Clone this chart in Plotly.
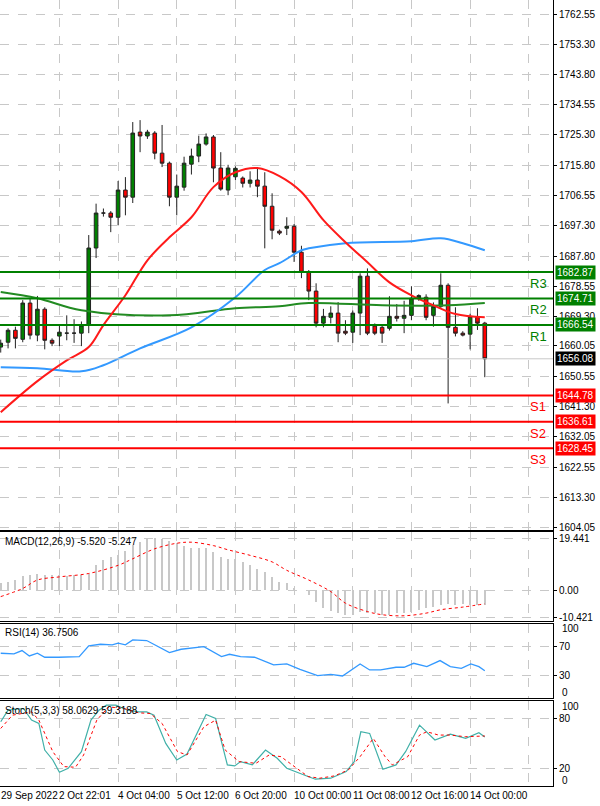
import plotly.graph_objects as go

# candles (index 0..66)
opens = [1659.7, 1661.2, 1664.9, 1662.1, 1673.3, 1663.4, 1671.4, 1661.8, 1663.1, 1664.0,
         1664.0, 1664.0, 1666.5, 1690.3, 1701.1, 1701.1, 1699.8, 1708.2, 1706.0, 1726.1,
         1724.9, 1725.8, 1719.6, 1716.5, 1706.0, 1709.1, 1716.2, 1718.7, 1722.4, 1724.6,
         1715.0, 1708.2, 1712.3, 1711.9, 1710.3, 1711.3, 1709.4, 1703.2, 1695.5, 1696.4,
         1697.0, 1689.0, 1682.8, 1677.0, 1667.1, 1668.9, 1670.2, 1664.6, 1664.3, 1670.2,
         1681.6, 1666.2, 1665.8, 1665.5, 1669.2, 1668.6, 1669.5, 1674.8, 1675.1, 1669.5,
         1672.3, 1678.8, 1665.8, 1664.0, 1663.7, 1668.9, 1667.1]
highs = [1662.0, 1665.5, 1666.0, 1674.2, 1674.8, 1675.5, 1672.0, 1662.4, 1666.5, 1669.5,
         1668.3, 1667.6, 1694.3, 1704.0, 1702.5, 1701.7, 1711.0, 1712.2, 1729.2, 1729.8,
         1726.8, 1726.4, 1728.3, 1717.0, 1713.0, 1718.5, 1721.0, 1725.0, 1725.7, 1725.2,
         1719.9, 1716.0, 1715.5, 1712.4, 1714.0, 1714.8, 1713.7, 1707.2, 1696.0, 1699.8,
         1697.7, 1691.0, 1683.5, 1679.4, 1671.5, 1672.3, 1673.6, 1668.0, 1671.0, 1682.5,
         1684.0, 1667.0, 1666.5, 1675.4, 1673.0, 1674.0, 1678.5, 1676.0, 1676.0, 1673.5,
         1682.5, 1679.4, 1672.0, 1664.6, 1670.0, 1671.7, 1667.5]
lows = [1658.0, 1659.3, 1659.3, 1661.2, 1662.1, 1661.5, 1659.0, 1660.0, 1660.0, 1661.8,
        1661.0, 1660.0, 1664.0, 1687.2, 1700.0, 1695.2, 1697.3, 1700.4, 1704.2, 1719.9,
        1724.0, 1717.7, 1715.3, 1703.2, 1700.4, 1708.0, 1713.0, 1716.8, 1721.9, 1710.6,
        1708.0, 1706.6, 1711.3, 1709.0, 1709.0, 1706.0, 1690.2, 1693.0, 1694.3, 1694.3,
        1686.0, 1681.0, 1674.2, 1665.8, 1665.8, 1667.0, 1661.2, 1663.4, 1661.0, 1663.4,
        1663.4, 1663.4, 1661.0, 1664.8, 1667.6, 1664.0, 1668.0, 1674.0, 1668.0, 1666.0,
        1671.5, 1642.3, 1663.0, 1663.0, 1659.0, 1665.0, 1650.4]
closes = [1660.9, 1664.9, 1662.4, 1673.3, 1663.4, 1671.4, 1661.8, 1660.9, 1664.3, 1664.0,
          1664.0, 1666.5, 1690.3, 1701.1, 1701.1, 1699.8, 1708.2, 1706.0, 1725.8, 1724.9,
          1726.1, 1719.6, 1716.5, 1706.0, 1709.4, 1716.5, 1718.7, 1722.4, 1724.6, 1715.0,
          1708.5, 1715.0, 1714.9, 1710.3, 1711.3, 1709.4, 1703.2, 1695.8, 1694.9, 1697.0,
          1689.0, 1682.8, 1677.0, 1667.1, 1669.2, 1670.2, 1664.0, 1664.0, 1670.2, 1681.6,
          1664.0, 1664.0, 1664.0, 1669.2, 1668.6, 1669.5, 1674.8, 1675.6, 1668.9, 1672.3,
          1678.8, 1665.8, 1664.0, 1663.4, 1669.2, 1667.1, 1656.08]

# moving averages (sampled)
ma_red_x = [0, 5, 9, 12, 14, 17, 20, 23, 26, 29, 32, 35, 38, 41, 44, 47, 50, 53, 56, 59, 62, 66]
ma_red = [1639.6, 1649.2, 1655.6, 1659.7, 1666.5, 1675.7, 1686.5, 1693.6, 1699.8, 1709.1, 1713.7,
          1715.0, 1712.5, 1707.6, 1698.9, 1692.1, 1685.9, 1679.7, 1675.7, 1672.6, 1669.9, 1668.9]
ma_blue_x = [0, 5, 11, 14, 19, 26, 32, 36, 38, 41, 42, 47, 56, 60, 63, 66]
ma_blue = [1653.5, 1653.2, 1652.2, 1654.1, 1659.3, 1665.8, 1675.1, 1683.5, 1685.6, 1689.6,
           1690.2, 1691.8, 1692.4, 1693.3, 1691.8, 1689.6]
ma_green_x = [0, 5, 11, 23, 32, 38, 42, 52, 61, 66]
ma_green = [1676.7, 1674.8, 1671.1, 1669.5, 1671.7, 1672.3, 1673.3, 1672.6, 1672.6, 1673.3]

levels_r = [1682.87, 1674.71, 1666.54]
names_r = ["R3", "R2", "R1"]
levels_s = [1644.78, 1636.61, 1628.45]
names_s = ["S1", "S2", "S3"]
last_price = 1656.08

price_ticks = [1762.55, 1753.30, 1743.80, 1734.55, 1725.30, 1715.80, 1706.55, 1697.30, 1687.80,
               1678.55, 1669.30, 1660.05, 1650.55, 1641.30, 1632.05, 1622.55, 1613.30, 1604.05]

macd_hist = [2.5, 3.1, 3.8, 5.3, 5.9, 6.3, 5.9, 5.6, 5.6, 5.4, 5.6, 5.9, 6.3, 9.4, 11.5, 12.5,
             13.5, 14.8, 17.3, 18.2, 19.8, 19.8, 19.4, 18.8, 17.8, 16.6, 16.1, 16.1, 16.1, 14.4,
             12.5, 11.9, 11.9, 10.7, 9.4, 8.2, 6.9, 5.0, 3.1, 2.5, 0.6, 0.0, -1.9, -4.4, -6.9,
             -7.8, -8.8, -9.4, -9.4, -8.5, -8.8, -8.8, -9.4, -9.4, -8.8, -8.8, -8.2, -7.5, -6.9,
             -6.3, -5.6, -5.3, -5.6, -5.3, -5.6, -5.6, -5.52]
macd_sig_x = [0, 3, 5, 8, 12, 16, 18, 21, 24, 26, 29, 31, 34, 37, 39, 42, 45, 47, 50, 52, 55, 58, 60, 63, 66]
macd_sig = [-2.5, 0.6, 3.8, 5.0, 6.3, 9.4, 11.9, 15.7, 17.8, 18.2, 16.9, 15.3, 13.2, 10.7, 7.5,
            3.8, -0.6, -5.0, -8.2, -9.4, -9.8, -8.8, -7.5, -6.5, -5.25]

rsi_x = [0, 1.8, 2.9, 3.9, 5, 6, 7.9, 10.7, 12, 13.6, 15.2, 16, 17, 18, 19.9, 21.5, 23, 24.6,
         26.2, 27.7, 30.1, 31.2, 32.7, 34.6, 37.2, 39, 40.8, 43.2, 45, 46.6, 49, 50.3, 51.8,
         53.9, 55, 56.3, 58.1, 59.9, 61.3, 62.8, 64.1, 65.2, 66]
rsi = [60.8, 59.9, 64.5, 57.1, 60.8, 55.3, 55.3, 56.2, 70.9, 73.2, 72.3, 74.6, 72.3, 79.2, 78.3,
       70.0, 61.7, 66.3, 68.2, 70.0, 56.2, 59.4, 56.2, 55.3, 44.7, 46.1, 38.7, 30.0, 31.8, 29.5,
       46.1, 37.8, 37.8, 41.5, 41.5, 47.0, 42.4, 50.7, 42.4, 40.1, 46.1, 42.4, 36.75]

stk_x = [0, 1.0, 3.1, 4.2, 5.2, 6.0, 7.1, 8.0, 9.2, 11, 12.3, 13.4, 14.4, 15.7, 17.3, 18.8, 19.9,
         20.9, 22.5, 24, 25.4, 28, 29.3, 30.9, 31.9, 32.7, 34.3, 36.1, 37.7, 39, 41.9, 42.9, 45,
         47.1, 48.2, 49.1, 50.3, 52.1, 53.9, 55.2, 57.1, 59.2, 61.3, 63.4, 65.2, 66]
stk_k = [76.4, 90.4, 92.4, 78.4, 74.4, 42.4, 30.4, 15.6, 20.4, 40.4, 78.4, 90.4, 96.4, 96.4, 90.4,
         88.4, 88.4, 84.4, 50.4, 30.4, 37.6, 85.2, 80.4, 24.4, 23.2, 28.4, 24.4, 42.4, 32.4, 20.4,
         10.4, 7.2, 8.4, 16.4, 28.4, 64.4, 62.4, 19.2, 24.4, 40.4, 72.4, 54.4, 61.6, 56.4, 63.2, 58.06]
std_x = [0, 1.6, 4.2, 5.2, 7.1, 8.6, 10.2, 11.3, 13.1, 14.7, 16.8, 18.8, 20.4, 22, 24.1, 25.4,
         27.7, 29.3, 30.6, 32.5, 34.8, 36.6, 38.2, 39.8, 41.9, 43.5, 45.5, 47.4, 49, 50.8, 52.4,
         53.4, 55.5, 57.1, 58.1, 59.7, 61.3, 63.4, 66]
std_d = [68.4, 84.4, 88.4, 78.4, 40.4, 22.4, 21.6, 36.4, 78.4, 94.4, 92.4, 87.2, 86.4, 74.4, 40.4,
         36.4, 70.4, 78.4, 42.4, 28.4, 26.4, 36.4, 34.4, 24.4, 10.4, 8.4, 11.2, 18.4, 34.4, 56.4,
         34.4, 24.4, 34.4, 60.4, 64.4, 60.4, 60.4, 58.4, 59.32]

date_pos = [0, 8, 16, 24, 32, 40, 48, 56, 64]
date_labels = ["29 Sep 2022", "2 Oct 22:01", "4 Oct 04:00", "5 Oct 12:00", "6 Oct 20:00",
               "10 Oct 00:00", "11 Oct 08:00", "12 Oct 16:00", "14 Oct 00:00"]

idx = list(range(len(opens)))
XD = 553 / 600
FONT = "Liberation Sans"

fig = go.Figure()
fig.add_trace(go.Candlestick(x=idx, open=opens, high=highs, low=lows, close=closes,
                             increasing=dict(fillcolor="#008000", line=dict(color="#222", width=1)),
                             decreasing=dict(fillcolor="#ff0000", line=dict(color="#222", width=1)),
                             whiskerwidth=0, xaxis="x", yaxis="y"))
fig.add_trace(go.Scatter(x=ma_green_x, y=ma_green, mode="lines", line=dict(color="#228b22", width=2, shape="spline")))
fig.add_trace(go.Scatter(x=ma_blue_x, y=ma_blue, mode="lines", line=dict(color="#3399ff", width=2, shape="spline")))
fig.add_trace(go.Scatter(x=ma_red_x, y=ma_red, mode="lines", line=dict(color="#ff1a1a", width=2, shape="spline")))

fig.add_trace(go.Bar(x=idx, y=macd_hist, marker=dict(color="#c8c8c8", line=dict(width=0)),
                     width=0.2, xaxis="x2", yaxis="y2"))
fig.add_trace(go.Scatter(x=macd_sig_x, y=macd_sig, mode="lines", xaxis="x2", yaxis="y2",
                         line=dict(color="#ff0000", width=1, dash="dot", shape="spline")))
fig.add_trace(go.Scatter(x=rsi_x, y=rsi, mode="lines", xaxis="x3", yaxis="y3",
                         line=dict(color="#3399ff", width=1.3)))
fig.add_trace(go.Scatter(x=stk_x, y=stk_k, mode="lines", xaxis="x4", yaxis="y4",
                         line=dict(color="#40b0a8", width=1.2)))
fig.add_trace(go.Scatter(x=std_x, y=std_d, mode="lines", xaxis="x4", yaxis="y4",
                         line=dict(color="#ff0000", width=1, dash="dot")))

shapes = []
anns = []
xr = [-0.1, 75.3]
tf = dict(family=FONT, size=10, color="#000")


def level(v, color, name, bg):
    shapes.append(dict(type="line", xref="paper", x0=0, x1=XD, yref="y", y0=v, y1=v,
                       line=dict(color=color, width=2)))
    anns.append(dict(x=XD + 0.004, xref="paper", y=v, yref="y", text=f"{v:.2f}", showarrow=False,
                     xanchor="left", bgcolor=bg, font=dict(family=FONT, size=10, color="#fff"),
                     borderpad=1))
    if name:
        anns.append(dict(x=XD - 0.025, xref="paper", y=v, yref="y", text=name, showarrow=False,
                         xanchor="center", yanchor="top", yshift=-2,
                         font=dict(family=FONT, size=13, color=color)))


shapes.append(dict(type="line", xref="paper", x0=0, x1=XD, yref="y", y0=last_price, y1=last_price,
                   line=dict(color="#c8c8c8", width=1)))
for v, n in zip(levels_r, names_r):
    level(v, "#008000", n, "#008000")
for v, n in zip(levels_s, names_s):
    level(v, "#ff0000", n, "#ff0000")
anns.append(dict(x=XD + 0.004, xref="paper", y=last_price, yref="y", text=f"{last_price:.2f}",
                 showarrow=False, xanchor="left", bgcolor="#000",
                 font=dict(family=FONT, size=10, color="#fff"), borderpad=1))

anns.append(dict(x=0.005, xref="paper", y=0.338, yref="paper", text="MACD(12,26,9) -5.520 -5.247",
                 showarrow=False, xanchor="left", yanchor="top", font=tf))
anns.append(dict(x=0.005, xref="paper", y=0.224, yref="paper", text="RSI(14) 36.7506",
                 showarrow=False, xanchor="left", yanchor="top", font=tf))
anns.append(dict(x=0.005, xref="paper", y=0.128, yref="paper", text="Stoch(5,3,3) 58.0629 59.3188",
                 showarrow=False, xanchor="left", yanchor="top", font=tf))
for p, t in zip(date_pos, date_labels):
    anns.append(dict(x=p, xref="x4", y=0.022, yref="paper", text=t, showarrow=False,
                     xanchor="left", yanchor="top", xshift=-2, font=tf))
# 100 / 0 scale labels sit just inside the indicator panels
for top, bot in ((0.220, 0.141), (0.123, 0.032)):
    anns.append(dict(x=XD + 0.012, xref="paper", y=top, yref="paper", text="100",
                     showarrow=False, xanchor="left", yanchor="middle", font=tf))
    anns.append(dict(x=XD + 0.012, xref="paper", y=bot, yref="paper", text="0",
                     showarrow=False, xanchor="left", yanchor="middle", font=tf))

grid = dict(showgrid=True, gridcolor="#c8c8c8", griddash="dash", gridwidth=1)
xcommon = dict(range=xr, domain=[0, XD], tickvals=date_pos + [72], showticklabels=False,
               showline=True, linecolor="#000", linewidth=1, mirror=True, zeroline=False,
               ticks="", automargin=False, rangeslider=dict(visible=False), **grid)
ycommon = dict(side="right", showline=True, linecolor="#000", linewidth=1, mirror=True,
               zeroline=False, ticks="outside", ticklen=3, tickcolor="#000", tickfont=tf,
               automargin=False, **grid)

fig.update_layout(
    width=600, height=806, margin=dict(l=0, r=0, t=0, b=0, autoexpand=False),
    plot_bgcolor="#fff", paper_bgcolor="#fff", showlegend=False, bargap=0,
    xaxis=dict(**xcommon),
    xaxis2=dict(**xcommon, anchor="y2", matches="x"),
    xaxis3=dict(**xcommon, anchor="y3", matches="x"),
    xaxis4=dict(**xcommon, anchor="y4", matches="x"),
    yaxis=dict(**ycommon, domain=[0.342, 1.0], range=[1603.1, 1766.9], tickvals=price_ticks,
               ticktext=[f"{v:.2f}" for v in price_ticks]),
    yaxis2=dict(**ycommon, domain=[0.2295, 0.340], range=[-11.8, 22.1], anchor="x2",
                tickvals=[19.441, 0, -10.421], ticktext=["19.441", "0.00", "-10.421"]),
    yaxis3=dict(**ycommon, domain=[0.134, 0.226], range=[-0.8, 101.3], anchor="x3",
                tickvals=[70, 30]),
    yaxis4=dict(**ycommon, domain=[0.025, 0.130], range=[-0.8, 101.2], anchor="x4",
                tickvals=[80, 20]),
    shapes=shapes, annotations=anns,
)
fig.write_html("out.html", config={"displayModeBar": False},
               post_script="document.body.style.margin='0';")
